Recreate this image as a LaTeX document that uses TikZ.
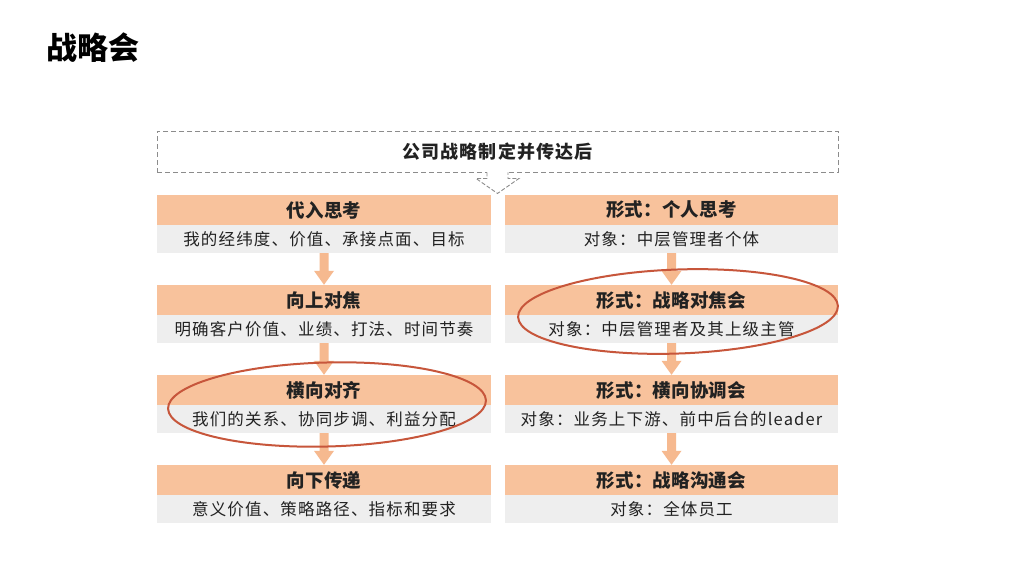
\documentclass[tikz,border=0pt]{standalone}
\usepackage{fontspec}
\setmainfont{Noto Sans CJK SC}
\newfontfamily\cjkhead[LetterSpace=1]{Noto Sans CJK SC}
\newfontfamily\cjkrow[LetterSpace=7]{Noto Sans CJK SC}
\newfontfamily\cjktop[LetterSpace=6]{Noto Sans CJK SC}
\usetikzlibrary{calc}
\definecolor{barc}{HTML}{F8C29C}
\definecolor{rowc}{HTML}{EEEEEE}
\definecolor{arrowc}{HTML}{F6B98F}
\definecolor{ellc}{HTML}{C7563B}
\definecolor{txtc}{HTML}{222222}
\definecolor{dashc}{HTML}{8C8C8C}
\tikzset{
  bar/.style={rectangle, fill=barc, minimum height=30pt, inner sep=0pt, text=txtc,
    font=\cjkhead\bfseries\fontsize{18.5}{20}\selectfont},
  rowbox/.style={rectangle, fill=rowc, minimum height=28pt, inner sep=0pt, text=txtc,
    font=\cjkrow\fontsize{16.5}{18}\selectfont},
  leftcol/.style={minimum width=334pt},
  rightcol/.style={minimum width=333pt},
  dashbox/.style={rectangle, draw=dashc, line width=0.9pt, dash pattern=on 5pt off 3pt,
    minimum width=681pt, minimum height=41pt, inner sep=0pt, text=txtc,
    font=\cjktop\bfseries\fontsize{18}{20}\selectfont},
  ring/.style={draw=ellc, line width=2pt},
}
\newcommand\flowarrow[2]{%
  \fill[arrowc] ($(#1.south)+(-4.5,0)$) -- ($(#2.north)+(-4.5,-14)$) -- ($(#2.north)+(-10,-14)$)
    -- (#2.north) -- ($(#2.north)+(10,-14)$) -- ($(#2.north)+(4.5,-14)$) -- ($(#1.south)+(4.5,0)$) -- cycle;}
\begin{document}
\begin{tikzpicture}[x=1pt, y=-1pt]
\useasboundingbox (0,0) rectangle (1009,568);
\fill[white] (0,0) rectangle (1009,568);

\node[anchor=west, text=black, font=\bfseries\fontsize{31}{34}\selectfont] (title) at (43,48) {战略会};

\node[dashbox] (top) at (497.5,151.5) {公司战略制定并传达后};
\fill[white] ($(top.south)+(-10.5,-1.5)$) rectangle ($(top.south)+(10.5,1.5)$);
\draw[dashc, line width=0.9pt, dash pattern=on 4pt off 2pt]
  ($(top.south)+(-10.5,0)$) -- ++(0,6) -- ++(-11,0) -- ($(top.south)+(0,21)$)
  -- ($(top.south)+(21.5,6)$) -- ++(-11,0) -- ++(0,-6);

% left column
\node[bar, leftcol] (l1h) at (324,210) {代入思考};
\node[rowbox, leftcol] (l1b) at (324,239) {我的经纬度、价值、承接点面、目标};
\node[bar, leftcol] (l2h) at (324,300) {向上对焦};
\node[rowbox, leftcol] (l2b) at (324,329) {明确客户价值、业绩、打法、时间节奏};
\node[bar, leftcol] (l3h) at (324,390) {横向对齐};
\node[rowbox, leftcol] (l3b) at (324,419) {我们的关系、协同步调、利益分配};
\node[bar, leftcol] (l4h) at (324,480) {向下传递};
\node[rowbox, leftcol] (l4b) at (324,509) {意义价值、策略路径、指标和要求};

% right column
\node[bar, rightcol] (r1h) at (671.5,210) {形式：个人思考};
\node[rowbox, rightcol] (r1b) at (671.5,239) {对象：中层管理者个体};
\node[bar, rightcol] (r2h) at (671.5,300) {形式：战略对焦会};
\node[rowbox, rightcol] (r2b) at (671.5,329) {对象：中层管理者及其上级主管};
\node[bar, rightcol] (r3h) at (671.5,390) {形式：横向协调会};
\node[rowbox, rightcol] (r3b) at (671.5,419) {对象：业务上下游、前中后台的leader};
\node[bar, rightcol] (r4h) at (671.5,480) {形式：战略沟通会};
\node[rowbox, rightcol] (r4b) at (671.5,509) {对象：全体员工};

\flowarrow{l1b}{l2h}
\flowarrow{l2b}{l3h}
\flowarrow{l3b}{l4h}
\flowarrow{r1b}{r2h}
\flowarrow{r2b}{r3h}
\flowarrow{r3b}{r4h}

\draw[ring, rotate around={2:(678,311.5)}] (678,311.5) ellipse (160pt and 42pt);
\draw[ring, rotate around={1.5:(327,404.5)}] (327,404.5) ellipse (159pt and 42pt);
\end{tikzpicture}
\end{document}
